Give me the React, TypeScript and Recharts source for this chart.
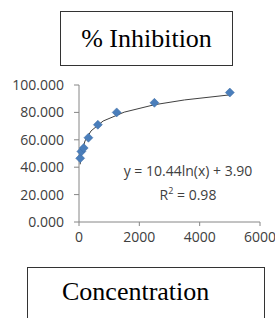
import { ScatterChart, Scatter, XAxis, YAxis } from 'recharts'

// measured points (concentration vs % inhibition)
const concentration = [39, 78, 156, 312, 625, 1250, 2500, 5000]
const inhibition = [46.5, 51.5, 54, 61.5, 71, 80, 87, 94.5]

// log trendline as drawn: y = 10.44ln(x) + 3.90
const trendX = [39, 60, 100, 200, 400, 800, 1500, 2500, 3500, 5000]
const trendY = [42.1, 46.6, 52.0, 59.2, 66.5, 73.7, 80.2, 85.6, 89.1, 92.8]

const xTicks = [0, 2000, 4000, 6000]
const yTicks = [0, 20, 40, 60, 80, 100]

const equationText = 'y = 10.44ln(x) + 3.90'
const r2Text = '0.98'

const points = concentration.map((x, i) => ({ x, y: inhibition[i] }))
const trend = trendX.map((x, i) => ({ x, y: trendY[i] }))

const Diamond = (props: any) => {
  const { cx, cy } = props
  const r = 4.5
  return (
    <polygon
      points={`${cx},${cy - r} ${cx + r},${cy} ${cx},${cy + r} ${cx - r},${cy}`}
      fill="#4a7ebb"
      stroke="#3c6aa3"
      strokeWidth={0.5}
    />
  )
}

const tickStyle = { fontSize: 14, fill: '#404040', fontFamily: "'Open Sans', sans-serif" }
const boxText = { fontFamily: "'Liberation Serif', 'Times New Roman', serif", fontSize: 26, color: '#000' }

export default function App() {
  return (
    <div style={{ position: 'absolute', left: 0, top: 0, width: 275, height: 318, background: '#fff', overflow: 'hidden' }}>
      <div style={{ position: 'absolute', left: 0, top: 0 }}>
        <ScatterChart width={275} height={318} margin={{ top: 85, right: 15, bottom: 66, left: 0 }}>
          <XAxis
            type="number"
            dataKey="x"
            domain={[0, 6000]}
            ticks={xTicks}
            interval={0}
            height={30}
            tick={tickStyle}
            tickSize={4}
            tickMargin={6}
            stroke="#868686"
          />
          <YAxis
            type="number"
            dataKey="y"
            domain={[0, 100]}
            ticks={yTicks}
            interval={0}
            width={79}
            tick={tickStyle}
            tickSize={5}
            tickMargin={10}
            tickFormatter={(v) => Number(v).toFixed(3)}
            stroke="#868686"
          />
          <Scatter data={trend} line={{ stroke: '#404040', strokeWidth: 1 }} shape={() => <g />} isAnimationActive={false} />
          <Scatter data={points} shape={<Diamond />} isAnimationActive={false} />
        </ScatterChart>
      </div>

      <div style={{ position: 'absolute', left: 106, top: 161, width: 164, textAlign: 'center', ...tickStyle, color: '#404040', lineHeight: '20px' }}>
        <div>{equationText}</div>
        <div>
          R<sup style={{ fontSize: 9 }}>2</sup> = {r2Text}
        </div>
      </div>

      <div
        style={{
          position: 'absolute', left: 60, top: 11, width: 171, height: 53,
          border: '1px solid #333', display: 'flex', alignItems: 'center', justifyContent: 'center', ...boxText,
        }}
      >
        % Inhibition
      </div>

      <div
        style={{
          position: 'absolute', left: 27, top: 267, width: 236, height: 70,
          border: '1px solid #333', ...boxText,
        }}
      >
        <div style={{ position: 'absolute', left: 34, top: 9, whiteSpace: 'nowrap' }}>Concentration</div>
      </div>
    </div>
  )
}
